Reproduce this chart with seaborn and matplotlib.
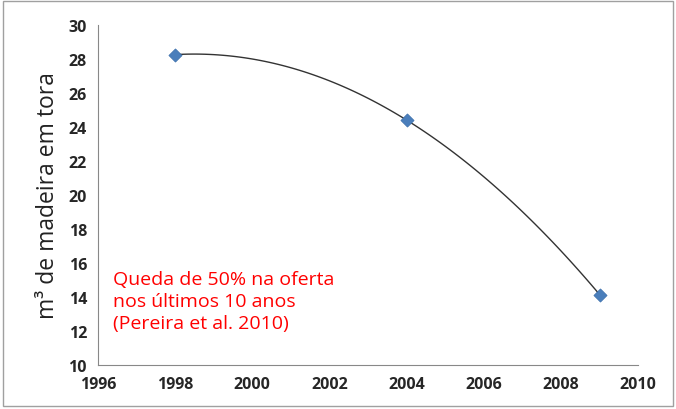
import matplotlib
matplotlib.use('Agg')

import matplotlib.pyplot as plt
import seaborn as sns
import pandas as pd
import numpy as np

# dados
anos = [1998, 2004, 2009]
volume = [28.25, 24.4, 14.15]
x_ticks = [1996, 1998, 2000, 2002, 2004, 2006, 2008, 2010]
y_ticks = [10, 12, 14, 16, 18, 20, 22, 24, 26, 28, 30]

df = pd.DataFrame({'ano': anos, 'volume': volume})

sns.set_theme(style='white')
plt.rcParams['font.family'] = ['Open Sans', 'DejaVu Sans']

fig = plt.figure(figsize=(6.76, 4.10), dpi=100)
ax = fig.add_axes([0.145, 0.107, 0.799, 0.830])

# linha de tendência polinomial (ordem 2)
sns.regplot(data=df, x='ano', y='volume', order=2, ci=None, scatter=False,
            ax=ax, line_kws={'color': '#333333', 'linewidth': 1.0})
sns.scatterplot(data=df, x='ano', y='volume', marker='D', s=45,
                color='#4A7EBB', edgecolor='#3A6EAB', linewidth=0.5,
                ax=ax, zorder=3)

ax.set_xlim(1996, 2010)
ax.set_ylim(10, 30)
ax.set_xticks(x_ticks)
ax.set_yticks(y_ticks)
ax.tick_params(axis='both', which='major', direction='out', length=4,
               width=0.8, color='#888888', labelsize=11.5, labelcolor='#262626',
               pad=4)
for lab in ax.get_xticklabels() + ax.get_yticklabels():
    lab.set_fontweight('bold')

for side in ['top', 'right']:
    ax.spines[side].set_visible(False)
for side in ['left', 'bottom']:
    ax.spines[side].set_color('#888888')
    ax.spines[side].set_linewidth(0.8)

ax.set_xlabel('')
ax.set_ylabel('m³ de madeira em tora', fontsize=16.5, color='#222222', labelpad=6)

ax.text(0.028, 0.28, 'Queda de 50% na oferta\nnos últimos 10 anos\n(Pereira et al. 2010)',
        transform=ax.transAxes, color='#FF0000', fontsize=14,
        va='top', ha='left', linespacing=1.3)

# moldura externa
fig.patches.append(plt.Rectangle((0.004, 0.008), 0.992, 0.986, transform=fig.transFigure,
                                 fill=False, edgecolor='#A0A0A0', linewidth=1.0))

fig.savefig('out.png', dpi=100)
